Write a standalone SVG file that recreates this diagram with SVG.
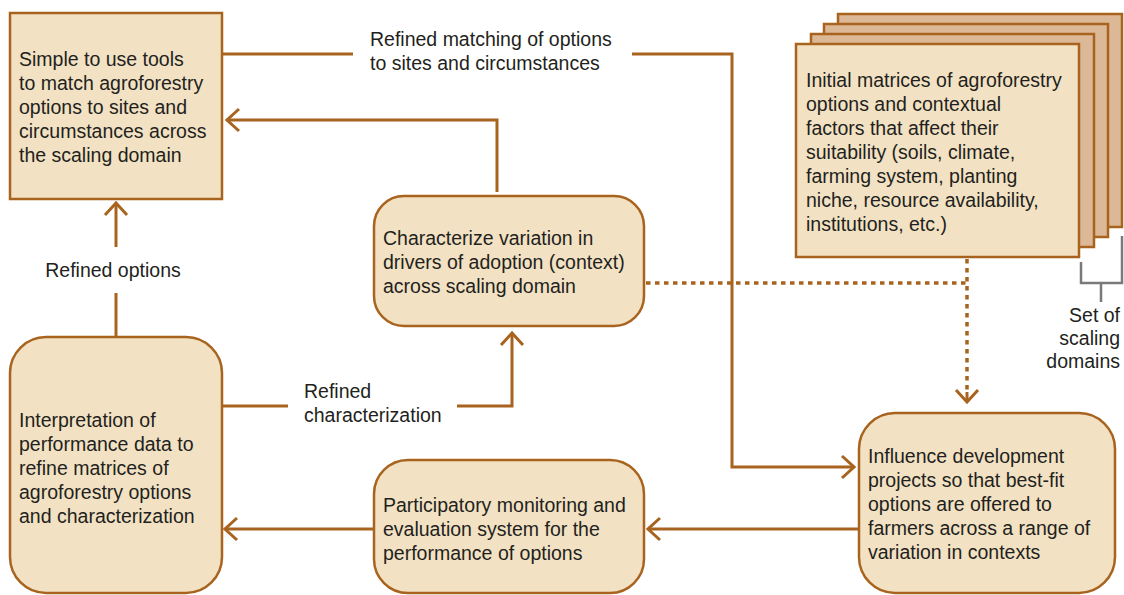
<svg xmlns="http://www.w3.org/2000/svg" width="1124" height="595" viewBox="0 0 1124 595">
<style>
.box{fill:#f2e2c3;stroke:#a8641f;stroke-width:2.5}
.back{fill:#dcb896;stroke:#a8641f;stroke-width:2.5}
.t{font-family:"Liberation Sans",Arial,sans-serif;font-size:19.5px;fill:#231f20}
.c{fill:none;stroke:#a8641f;stroke-width:3}
.d{fill:none;stroke:#a8641f;stroke-width:3.5;stroke-dasharray:4.5 4.5}
.br{fill:none;stroke:#7a7a7a;stroke-width:2.5}
</style>
<defs>
<marker id="chev" markerUnits="userSpaceOnUse" viewBox="-16 -14 18 28" refX="0" refY="0" markerWidth="18" markerHeight="28" orient="auto">
<path d="M -12 -11 L 0 0 L -12 11" fill="none" stroke="#a8641f" stroke-width="3"/>
</marker>
</defs>

<g id="connectors">
<path class="c" d="M 222 54 H 353"/>
<path class="c" d="M 632 54 H 732 V 467 H 854" marker-end="url(#chev)"/>
<path class="c" d="M 497 192 V 120 H 227" marker-end="url(#chev)"/>
<path class="c" d="M 116 247 V 203" marker-end="url(#chev)"/>
<path class="c" d="M 116 293 V 337"/>
<path class="c" d="M 222 406 H 288"/>
<path class="c" d="M 457 406 H 512 V 333" marker-end="url(#chev)"/>
<path class="c" d="M 373 529 H 225" marker-end="url(#chev)"/>
<path class="c" d="M 858 529 H 648" marker-end="url(#chev)"/>
<path class="d" d="M 646 283 H 966"/>
<path class="d" d="M 967 259 V 392"/>
<path class="c" d="M 967 392 V 402" marker-end="url(#chev)"/>
<path class="br" d="M 1081 262 V 283 H 1122 V 236 M 1101 283 V 302"/>
</g>

<g id="labels">
<text class="t" x="370" y="46">Refined matching of options</text>
<text class="t" x="370" y="70">to sites and circumstances</text>
<text class="t" x="113" y="277" text-anchor="middle">Refined options</text>
<text class="t" x="304" y="398">Refined</text>
<text class="t" x="304" y="422">characterization</text>
<text class="t" x="1120" y="322" text-anchor="end">Set of</text>
<text class="t" x="1120" y="345" text-anchor="end">scaling</text>
<text class="t" x="1120" y="368" text-anchor="end">domains</text>
</g>

<g id="node-tools">
<rect class="box" x="10" y="13" width="212" height="186"/>
<text class="t" x="19" y="66">Simple to use tools</text>
<text class="t" x="19" y="90">to match agroforestry</text>
<text class="t" x="19" y="114">options to sites and</text>
<text class="t" x="19" y="138">circumstances across</text>
<text class="t" x="19" y="162">the scaling domain</text>
</g>

<g id="node-initial">
<rect class="back" x="838" y="14" width="284" height="213"/>
<rect class="back" x="824" y="24" width="284" height="213"/>
<rect class="back" x="811" y="34" width="283" height="213"/>
<rect class="box" x="796" y="44" width="283" height="213"/>
<text class="t" x="806" y="87">Initial matrices of agroforestry</text>
<text class="t" x="806" y="111">options and contextual</text>
<text class="t" x="806" y="135">factors that affect their</text>
<text class="t" x="806" y="159">suitability (soils, climate,</text>
<text class="t" x="806" y="183">farming system, planting</text>
<text class="t" x="806" y="207">niche, resource availability,</text>
<text class="t" x="806" y="231">institutions, etc.)</text>
</g>

<g id="node-characterize">
<rect class="box" x="374" y="196" width="270" height="130" rx="30"/>
<text class="t" x="383" y="245">Characterize variation in</text>
<text class="t" x="383" y="269">drivers of adoption (context)</text>
<text class="t" x="383" y="293">across scaling domain</text>
</g>

<g id="node-interpretation">
<rect class="box" x="10" y="337" width="212" height="256" rx="36"/>
<text class="t" x="19" y="427">Interpretation of</text>
<text class="t" x="19" y="451">performance data to</text>
<text class="t" x="19" y="475">refine matrices of</text>
<text class="t" x="19" y="499">agroforestry options</text>
<text class="t" x="19" y="523">and characterization</text>
</g>

<g id="node-participatory">
<rect class="box" x="374" y="460" width="270" height="133" rx="34"/>
<text class="t" x="383" y="512">Participatory monitoring and</text>
<text class="t" x="383" y="536">evaluation system for the</text>
<text class="t" x="383" y="560">performance of options</text>
</g>

<g id="node-influence">
<rect class="box" x="859" y="413" width="256" height="180" rx="36"/>
<text class="t" x="868" y="463">Influence development</text>
<text class="t" x="868" y="487">projects so that best-fit</text>
<text class="t" x="868" y="511">options are offered to</text>
<text class="t" x="868" y="535">farmers across a range of</text>
<text class="t" x="868" y="559">variation in contexts</text>
</g>
</svg>
